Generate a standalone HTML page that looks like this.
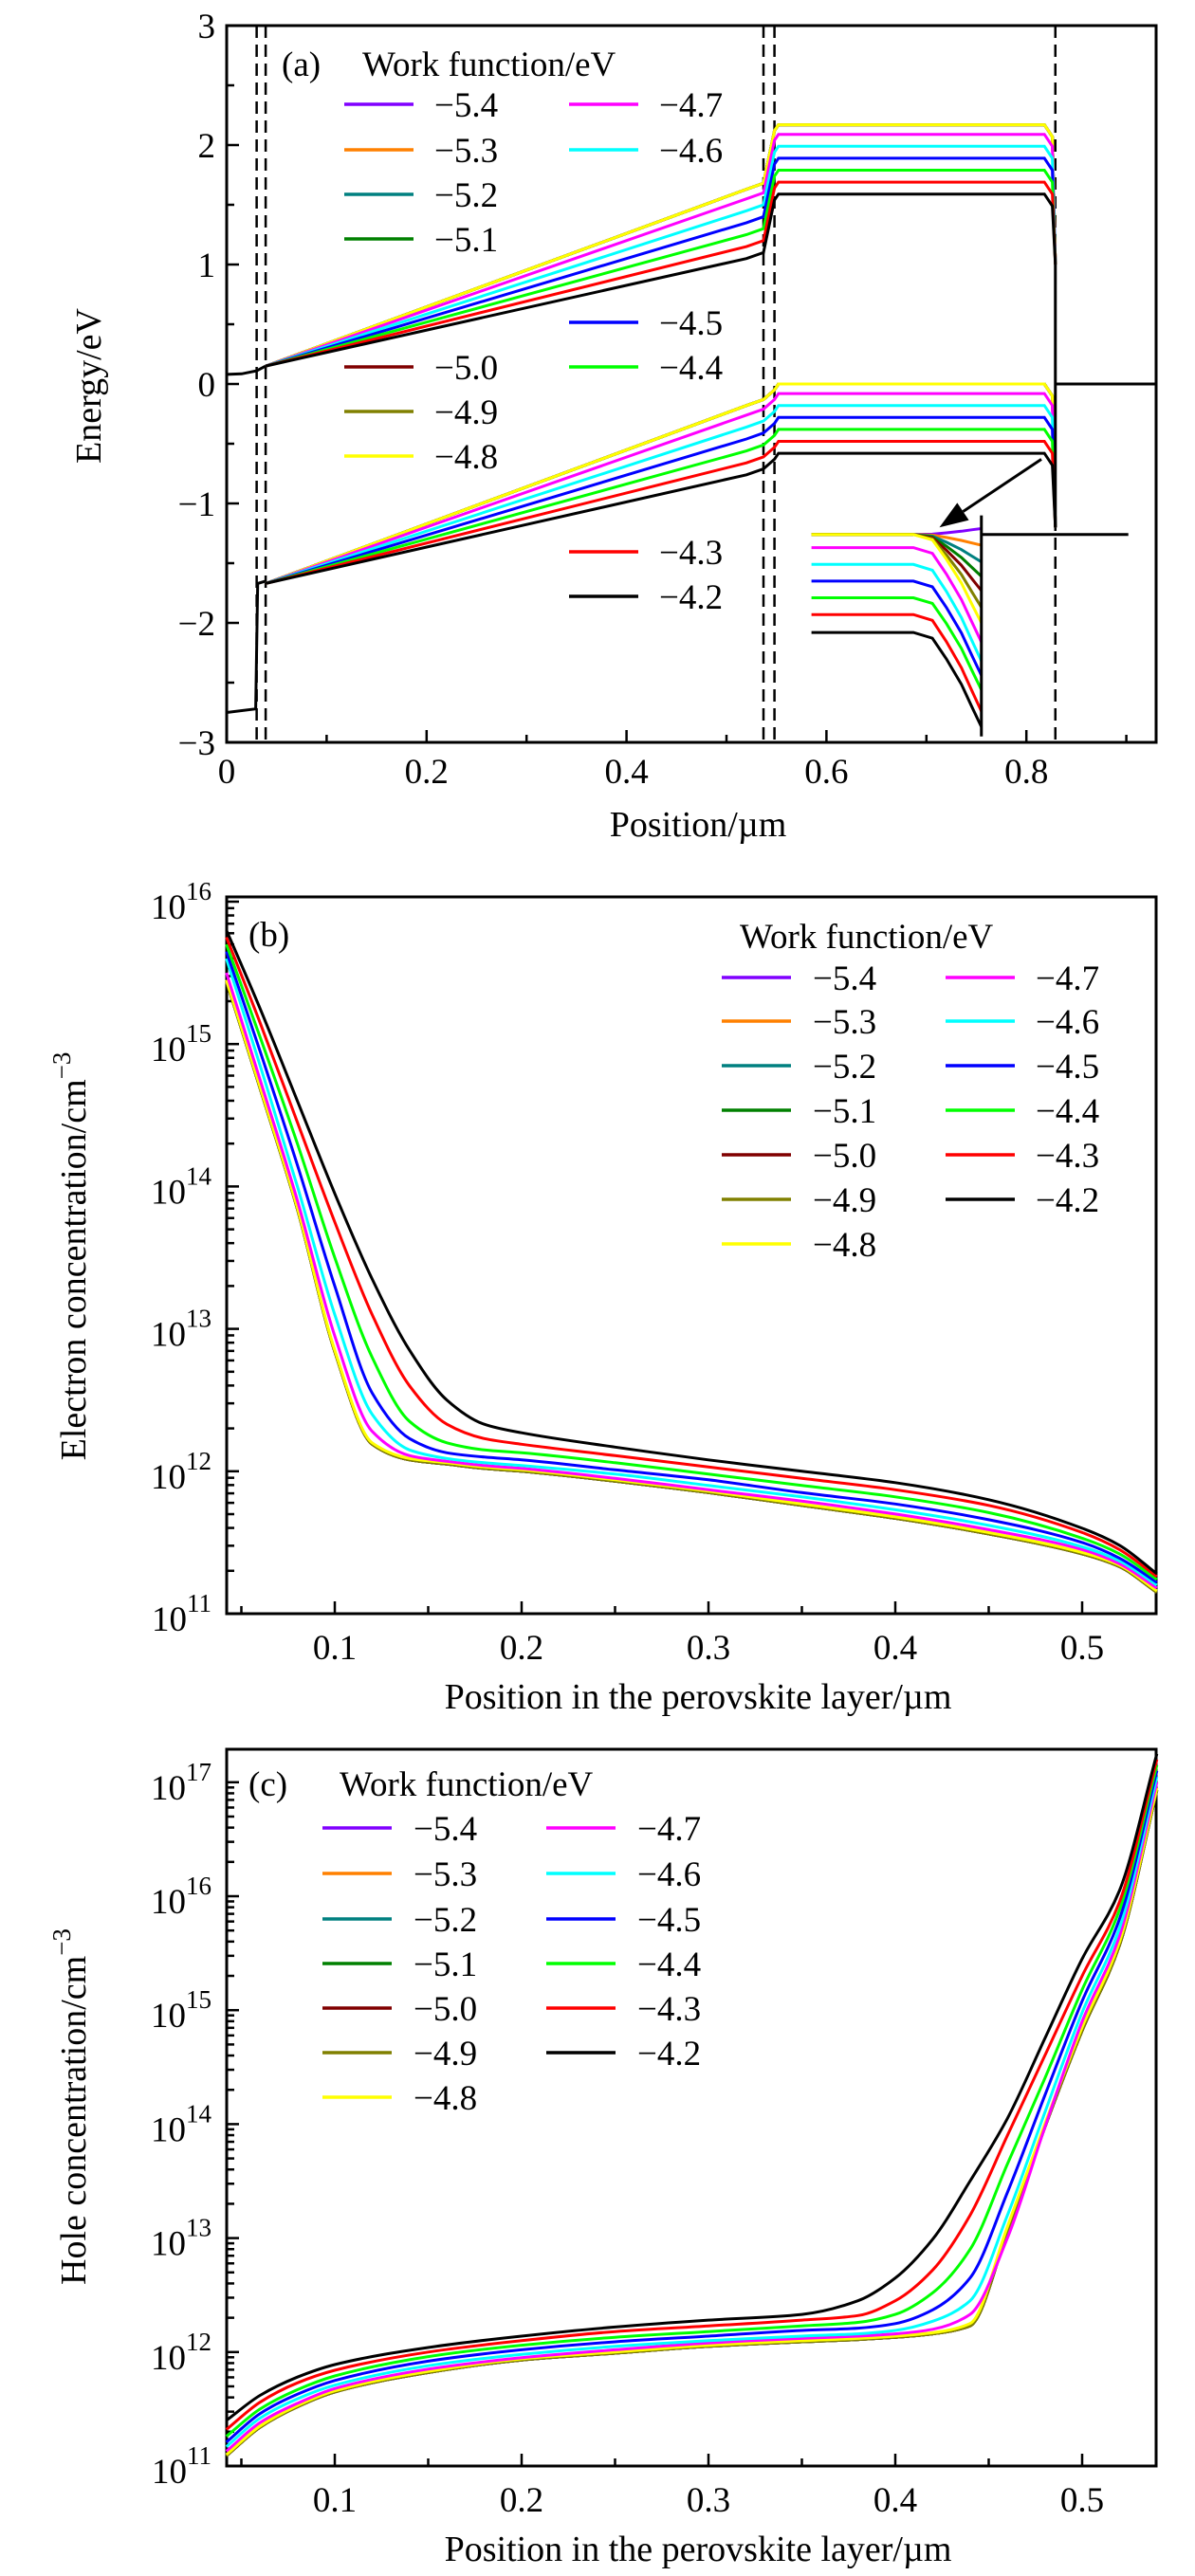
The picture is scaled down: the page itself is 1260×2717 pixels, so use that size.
<!DOCTYPE html>
<html><head><meta charset="utf-8"><title>Band diagram and carrier concentrations</title>
<style>
html,body{margin:0;padding:0;background:#fff;}
svg{display:block;}
text{font-family:"Liberation Serif","DejaVu Serif",serif;fill:#000;}
</style></head>
<body>
<svg id="fig" width="1260" height="2717" viewBox="0 0 1260 2717" xmlns="http://www.w3.org/2000/svg">
<g id="pa"></g>
<g id="pb"></g>
<g id="pc"></g>
</svg>
<script>
// ---------- shared data ----------
const workFunctions = ["\u22125.4","\u22125.3","\u22125.2","\u22125.1","\u22125.0","\u22124.9","\u22124.8","\u22124.7","\u22124.6","\u22124.5","\u22124.4","\u22124.3","\u22124.2"];
const seriesColors = ["#8000ff","#ff8000","#008080","#008000","#800000","#808000","#ffff00","#ff00ff","#00ffff","#0000ff","#00ff00","#ff0000","#000000"];

// ---------- panel (a) data ----------
const aXTicks = [0,0.2,0.4,0.6,0.8];
const aYTicks = [-3,-2,-1,0,1,2,3];
const cbPeroStart = [0.15,0.15,0.15,0.15,0.15,0.15,0.15,0.15,0.15,0.15,0.15,0.15,0.15];
const cbPeroEnd = [1.68,1.68,1.68,1.68,1.68,1.68,1.68,1.60,1.50,1.40,1.30,1.20,1.10];
const cbHTL = [2.17,2.17,2.17,2.17,2.17,2.17,2.17,2.09,1.99,1.89,1.79,1.69,1.59];
const vbPeroStart = [-1.67,-1.67,-1.67,-1.67,-1.67,-1.67,-1.67,-1.67,-1.67,-1.67,-1.67,-1.67,-1.67];
const vbPeroEnd = [-0.13,-0.13,-0.13,-0.13,-0.13,-0.13,-0.13,-0.21,-0.31,-0.41,-0.51,-0.61,-0.71];
const vbHTL = [0,0,0,0,0,0,0,-0.08,-0.18,-0.28,-0.38,-0.48,-0.58];
const insetLevel = [-1.26,-1.26,-1.26,-1.26,-1.26,-1.26,-1.26,-1.37,-1.51,-1.65,-1.79,-1.93,-2.08];
const insetEnd = [-1.21,-1.35,-1.49,-1.61,-1.73,-1.87,-2.0,-2.16,-2.32,-2.44,-2.56,-2.74,-2.87];
const interfaces = [0.030,0.039,0.537,0.548,0.829];

// ---------- panel (b) data ----------
const bX = [0.042,0.06,0.08,0.1,0.12,0.14,0.16,0.18,0.2,0.25,0.3,0.35,0.4,0.45,0.5,0.52,0.54];
const bYellow = [15.45,14.7,13.85,12.85,12.2,12.09,12.06,12.03,12.01,11.94,11.86,11.77,11.68,11.57,11.43,11.34,11.16];
const bMagenta = [15.5,14.75,13.9,12.95,12.28,12.11,12.07,12.04,12.02,11.95,11.87,11.79,11.7,11.59,11.45,11.35,11.18];
const bCyan = [15.6,14.85,14.0,13.1,12.4,12.15,12.09,12.06,12.04,11.98,11.9,11.82,11.73,11.62,11.47,11.37,11.2];
const bBlue = [15.65,14.95,14.15,13.3,12.55,12.23,12.13,12.1,12.08,12.01,11.94,11.85,11.77,11.66,11.5,11.39,11.22];
const bGreen = [15.7,15.05,14.3,13.5,12.8,12.35,12.2,12.15,12.13,12.06,11.98,11.9,11.82,11.71,11.53,11.42,11.24];
const bRed = [15.75,15.15,14.45,13.75,13.1,12.6,12.33,12.23,12.19,12.11,12.03,11.95,11.87,11.76,11.57,11.45,11.26];
const bBlack = [15.8,15.25,14.6,13.95,13.35,12.85,12.5,12.33,12.27,12.17,12.08,12.0,11.92,11.8,11.6,11.48,11.28];
const bLow = [15.44,14.69,13.84,12.84,12.19,12.08,12.05,12.02,12.0,11.93,11.85,11.76,11.67,11.56,11.42,11.33,11.15];

// ---------- panel (c) data ----------
const cX = [0.042,0.06,0.08,0.1,0.15,0.2,0.25,0.3,0.35,0.38,0.4,0.42,0.44,0.46,0.48,0.5,0.52,0.54];
const cYellow = [11.1,11.35,11.53,11.66,11.83,11.94,12.0,12.06,12.1,12.12,12.14,12.17,12.25,13.1,14.0,14.85,15.6,16.95];
const cMagenta = [11.13,11.38,11.55,11.68,11.85,11.95,12.02,12.08,12.12,12.14,12.16,12.2,12.33,13.0,13.97,14.9,15.65,17.0];
const cCyan = [11.17,11.42,11.59,11.71,11.88,11.98,12.05,12.1,12.14,12.16,12.19,12.27,12.45,13.2,14.1,14.98,15.72,17.05];
const cBlue = [11.21,11.46,11.63,11.75,11.92,12.02,12.09,12.14,12.19,12.21,12.25,12.37,12.65,13.4,14.25,15.08,15.8,17.1];
const cGreen = [11.26,11.5,11.67,11.79,11.96,12.06,12.13,12.18,12.23,12.26,12.33,12.52,12.9,13.65,14.4,15.18,15.88,17.15];
const cRed = [11.32,11.56,11.73,11.84,12.0,12.1,12.18,12.23,12.28,12.32,12.45,12.72,13.2,13.9,14.6,15.3,15.95,17.2];
const cBlack = [11.4,11.62,11.78,11.89,12.04,12.14,12.22,12.28,12.33,12.45,12.65,12.99,13.5,14.05,14.75,15.45,16.05,17.25];
const cLow = [11.09,11.34,11.52,11.65,11.82,11.93,11.99,12.05,12.09,12.11,12.13,12.16,12.23,13.05,13.97,14.82,15.57,16.93];
const logXTicks = [0.1,0.2,0.3,0.4,0.5];

const NS = "http://www.w3.org/2000/svg";
function mk(parent, tag, attrs, txt){
  const e = document.createElementNS(NS, tag);
  for (const k in attrs) e.setAttribute(k, attrs[k]);
  if (txt !== undefined) e.textContent = txt;
  parent.appendChild(e);
  return e;
}
// monotone cubic (Fritsch-Carlson) path in pixel space, x increasing
function smoothPath(pts){
  const n = pts.length;
  const d = [], m = [];
  for (let i = 0; i < n-1; i++) d.push((pts[i+1][1]-pts[i][1])/(pts[i+1][0]-pts[i][0]));
  m[0] = d[0]; m[n-1] = d[n-2];
  for (let i = 1; i < n-1; i++){
    if (d[i-1]*d[i] <= 0) m[i] = 0;
    else {
      const h0 = pts[i][0]-pts[i-1][0], h1 = pts[i+1][0]-pts[i][0];
      const w1 = 2*h1+h0, w2 = h1+2*h0;
      m[i] = (w1+w2)/(w1/d[i-1]+w2/d[i]);
    }
  }
  let s = "M" + pts[0][0].toFixed(1) + "," + pts[0][1].toFixed(1);
  for (let i = 0; i < n-1; i++){
    const h = (pts[i+1][0]-pts[i][0])/3;
    s += " C" + (pts[i][0]+h).toFixed(1) + "," + (pts[i][1]+m[i]*h).toFixed(1) + " " + (pts[i+1][0]-h).toFixed(1) + "," + (pts[i+1][1]-m[i+1]*h).toFixed(1) + " " + pts[i+1][0].toFixed(1) + "," + pts[i+1][1].toFixed(1);
  }
  return s;
}
function linePath(pts){ return pts.map((p,i)=>(i?"L":"M")+p[0].toFixed(1)+","+p[1].toFixed(1)).join(" "); }

function legend(g, titleX, titleY, title, lineX, textX, col2LineX, col2TextX, rowY, prefix){
  if (title){
    const t = mk(g, "text", {x:titleX, y:titleY, "font-size":37});
    t.textContent = title;
    
    
  }
  for (let i = 0; i < workFunctions.length; i++){
    const col = i < 7 ? 0 : 1;
    const y = col === 0 ? rowY[i] : rowY[i + 100];
    const lx = col === 0 ? lineX : col2LineX;
    const tx = col === 0 ? textX : col2TextX;
    const eg = mk(g, "g", {});
    
    
    mk(eg, "line", {x1:lx, x2:lx+73, y1:y, y2:y, stroke:seriesColors[i], "stroke-width":3.5});
    mk(eg, "text", {x:tx, y:y+13, "font-size":37}, workFunctions[i]);
  }
}

// ================= PANEL A =================
(function(){
  const g = document.getElementById("pa");
  const L=239, R=1219, T=27, B=783;
  const xA = v => L + v*1054;
  const yA = e => T + (3-e)*126;
  const fr = mk(g, "rect", {x:L, y:T, width:R-L, height:B-T, fill:"none", stroke:"#000", "stroke-width":3});
  
  
  for (let v = 0; v <= 0.93; v += 0.1){
    const major = Math.abs(Math.round(v*10)%2) === 0;
    mk(g, "line", {x1:xA(v), x2:xA(v), y1:B, y2:B-(major?13:8), stroke:"#000", "stroke-width":2.5});
  }
  for (let e = -3; e <= 3; e += 0.5){
    const major = Math.abs(e - Math.round(e)) < 1e-6;
    mk(g, "line", {x1:L, x2:L+(major?13:8), y1:yA(e), y2:yA(e), stroke:"#000", "stroke-width":2.5});
  }
  aXTicks.forEach(v=>{
    const t = mk(g, "text", {x:xA(v), y:B+43, "font-size":37, "text-anchor":"middle"}, String(v));
    
    
  });
  aYTicks.forEach(e=>{
    const t = mk(g, "text", {x:L-12, y:yA(e)+13, "font-size":37, "text-anchor":"end"}, (e<0?"\u2212":"")+Math.abs(e));
    
    
  });
  const xt = mk(g, "text", {x:736, y:882, "font-size":38, "text-anchor":"middle"}, "Position/\u00b5m");
  
  
  const yt = mk(g, "text", {x:0, y:0, "font-size":38, "text-anchor":"middle", transform:"translate(106,407) rotate(-90)"}, "Energy/eV");
  
  
  interfaces.forEach(v=>{
    const d = mk(g, "line", {x1:xA(v), x2:xA(v), y1:T, y2:B, stroke:"#000", "stroke-width":2.5, "stroke-dasharray":"13,7"});
    
    
  });
  mk(g, "path", {d:linePath([[xA(0),yA(0.08)],[xA(0.015),yA(0.085)],[xA(0.03),yA(0.11)],[xA(0.039),yA(0.15)]]), fill:"none", stroke:"#000", "stroke-width":3});
  mk(g, "path", {d:linePath([[xA(0),yA(-2.75)],[xA(0.029),yA(-2.72)],[xA(0.031),yA(-1.67)],[xA(0.039),yA(-1.65)]]), fill:"none", stroke:"#000", "stroke-width":3});
  for (let i = 0; i < workFunctions.length; i++){
    const sg = mk(g, "g", {fill:"none", stroke:seriesColors[i], "stroke-width":3});
    
    
    const cb = [[xA(0.039),yA(cbPeroStart[i])],[xA(0.52),yA(cbPeroEnd[i]-0.05)],[xA(0.537),yA(cbPeroEnd[i])],[xA(0.548),yA(cbHTL[i]-0.05)],[xA(0.552),yA(cbHTL[i])],[xA(0.818),yA(cbHTL[i])],[xA(0.826),yA(cbHTL[i]-0.1)],[xA(0.829),yA(1.0)]];
    mk(sg, "path", {d:linePath(cb)});
    const vb = [[xA(0.039),yA(vbPeroStart[i])],[xA(0.52),yA(vbPeroEnd[i]-0.05)],[xA(0.537),yA(vbPeroEnd[i])],[xA(0.548),yA(vbHTL[i]-0.05)],[xA(0.552),yA(vbHTL[i])],[xA(0.818),yA(vbHTL[i])],[xA(0.826),yA(vbHTL[i]-0.1)],[xA(0.829),yA(-1.2)]];
    mk(sg, "path", {d:linePath(vb)});
  }
  mk(g, "line", {x1:xA(0.829), x2:xA(0.829), y1:yA(1.0), y2:yA(-1.2), stroke:"#000", "stroke-width":3});
  mk(g, "line", {x1:xA(0.829), x2:R, y1:yA(0), y2:yA(0), stroke:"#000", "stroke-width":3});
  const ig = mk(g, "g", {fill:"none", "stroke-width":3});
  
  
  for (let i = 0; i < workFunctions.length; i++){
    const lv = insetLevel[i], en = insetEnd[i];
    const pts = [[xA(0.585),yA(lv)],[xA(0.687),yA(lv)],[xA(0.706),yA(lv+(en-lv)*0.06)],[xA(0.72),yA(lv+(en-lv)*0.28)],[xA(0.735),yA(lv+(en-lv)*0.55)],[xA(0.746),yA(lv+(en-lv)*0.8)],[xA(0.755),yA(en)]];
    mk(ig, "path", {d:linePath(pts), stroke:seriesColors[i]});
  }
  mk(ig, "line", {x1:xA(0.755), x2:xA(0.755), y1:yA(-1.1), y2:yA(-2.95), stroke:"#000"});
  mk(ig, "line", {x1:xA(0.755), x2:xA(0.902), y1:yA(-1.26), y2:yA(-1.26), stroke:"#000"});
  const ar = mk(g, "g", {});
  
  
  const x1=xA(0.815), y1=yA(-0.63), x2=xA(0.713), y2=yA(-1.2);
  const ang = Math.atan2(y2-y1, x2-x1), hl=30, hw=11;
  const bx = x2 - hl*Math.cos(ang), by = y2 - hl*Math.sin(ang);
  mk(ar, "line", {x1:x1, y1:y1, x2:bx, y2:by, stroke:"#000", "stroke-width":3});
  mk(ar, "polygon", {points:[x2,y2, bx+hw*Math.sin(ang), by-hw*Math.cos(ang), bx-hw*Math.sin(ang), by+hw*Math.cos(ang)].join(","), fill:"#000"});
  const pl = mk(g, "text", {x:297, y:80, "font-size":37}, "(a)");
  
  
  const rows = {0:110,1:158,2:205,3:252,4:387,5:434,6:481,107:110,108:158,109:340,110:387,111:582,112:629};
  const lg = mk(g, "g", {});
  
  
  legend(lg, 382, 80, "Work function/eV", 363, 458, 600, 695, rows, "panel-a");
})();

// ================= LOG PANELS =================
function logPanel(gid, prefix, T, B, top, yDecadePx, xs, seriesList, yTitle, yTitleY, label, labelPos, legendCfg){
  const g = document.getElementById(gid);
  const L=239, R=1219;
  const xS = v => 944 + (v-0.4)*1970;
  const yS = l => B - (l-11)*yDecadePx;
  const fr = mk(g, "rect", {x:L, y:T, width:R-L, height:B-T, fill:"none", stroke:"#000", "stroke-width":3});
  
  
  for (let v = 0.05; v <= 0.54; v += 0.05){
    const major = Math.abs(Math.round(v*20)%2) === 0;
    mk(g, "line", {x1:xS(v), x2:xS(v), y1:B, y2:B-(major?13:8), stroke:"#000", "stroke-width":2.5});
  }
  logXTicks.forEach(v=>{
    const t = mk(g, "text", {x:xS(v), y:B+48, "font-size":37, "text-anchor":"middle"}, String(v));
    
    
  });
  for (let d = 11; d <= Math.floor(top); d++){
    mk(g, "line", {x1:L, x2:L+13, y1:yS(d), y2:yS(d), stroke:"#000", "stroke-width":2.5});
    for (let k = 2; k <= 9; k++){
      const l = d + Math.log10(k);
      if (l <= top) mk(g, "line", {x1:L, x2:L+8, y1:yS(l), y2:yS(l), stroke:"#000", "stroke-width":2.5});
    }
    const t = mk(g, "text", {x:L-16, y:yS(d)+18, "font-size":37, "text-anchor":"end"});
    
    
    mk(t, "tspan", {}, "10");
    mk(t, "tspan", {"font-size":27, dy:-20}, String(d));
  }
  const xt = mk(g, "text", {x:736, y:B+100, "font-size":38, "text-anchor":"middle"}, "Position in the perovskite layer/\u00b5m");
  
  
  const yt = mk(g, "text", {x:0, y:0, "font-size":38, "text-anchor":"middle", transform:"translate(90," + yTitleY + ") rotate(-90)"});
  
  
  yt.textContent = yTitle;
  mk(yt, "tspan", {"font-size":27, dy:-16}, "\u22123");
  for (let i = 0; i < seriesList.length; i++){
    const vals = seriesList[i];
    const pts = xs.map((v,j)=>[xS(v), yS(vals[j])]);
    const p = mk(g, "path", {d:smoothPath(pts), fill:"none", stroke:seriesColors[i], "stroke-width":3});
    
    
  }
  const pl = mk(g, "text", {x:labelPos[0], y:labelPos[1], "font-size":37}, label);
  
  
  const lg = mk(g, "g", {});
  
  
  legendCfg(lg);
}

logPanel("pb", "panel-b", 946, 1702, 16.04, 150.2, bX,
  [bLow,bLow,bLow,bLow,bLow,bLow,bYellow,bMagenta,bCyan,bBlue,bGreen,bRed,bBlack],
  "Electron concentration/cm", 1325, "(b)", [262,998],
  function(lg){
    const r = {}; const ys=[1031,1077,1124,1171,1218,1265,1312];
    for (let i=0;i<7;i++) r[i]=ys[i];
    for (let i=7;i<13;i++) r[i+100]=ys[i-7];
    legend(lg, 780, 1000, "Work function/eV", 761, 857, 997, 1092, r, "panel-b");
  });

logPanel("pc", "panel-c", 1845, 2601, 17.29, 120.2, cX,
  [cLow,cLow,cLow,cLow,cLow,cLow,cYellow,cMagenta,cCyan,cBlue,cGreen,cRed,cBlack],
  "Hole concentration/cm", 2222, "(c)", [262,1894],
  function(lg){
    const r = {}; const ys=[1928,1976,2024,2071,2118,2165,2212];
    for (let i=0;i<7;i++) r[i]=ys[i];
    for (let i=7;i<13;i++) r[i+100]=ys[i-7];
    legend(lg, 358, 1894, "Work function/eV", 340, 436, 576, 672, r, "panel-c");
  });
</script>
</body></html>
